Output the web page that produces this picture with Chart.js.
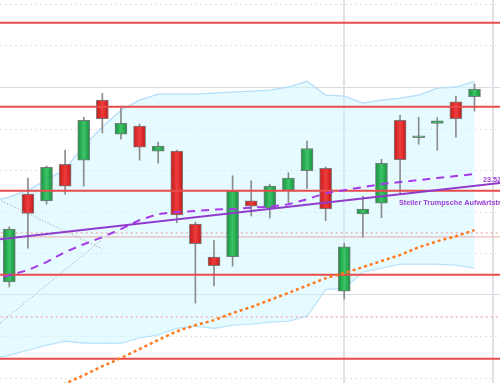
<!DOCTYPE html>
<html><head><meta charset="utf-8">
<script src="https://cdn.jsdelivr.net/npm/chart.js@4.4.1/dist/chart.umd.min.js"></script>
<style>html,body{margin:0;padding:0;background:#fff;overflow:hidden}canvas{display:block}</style>
</head><body>
<canvas id="c" width="500" height="383"></canvas>
<script>
// ---- data (prices) ----
const candleIndex = [0,1,2,3,4,5,6,7,8,9,10,11,12,13,14,15,16,17,18,19,20,21,22,23,24,25];
const opens  = [23.229,23.490,23.470,23.579,23.591,23.770,23.669,23.693,23.618,23.618,23.401,23.303,23.304,23.470,23.449,23.502,23.560,23.567,23.201,23.431,23.463,23.710,23.658,23.701,23.765,23.780];
const highs  = [23.393,23.538,23.574,23.621,23.719,23.790,23.746,23.699,23.645,23.621,23.407,23.353,23.545,23.530,23.520,23.554,23.648,23.571,23.344,23.484,23.594,23.725,23.719,23.718,23.782,23.818];
const lows   = [23.214,23.329,23.460,23.490,23.514,23.672,23.654,23.591,23.582,23.405,23.166,23.217,23.276,23.425,23.419,23.463,23.507,23.411,23.178,23.362,23.420,23.492,23.639,23.621,23.660,23.737];
const closes = [23.386,23.433,23.570,23.514,23.710,23.715,23.701,23.630,23.633,23.428,23.343,23.277,23.499,23.454,23.514,23.538,23.626,23.446,23.333,23.446,23.582,23.593,23.664,23.708,23.715,23.803];

const bandIndex = [-1,0,1,2,3,4,5,6,7,8,9,10,11,12,13,14,15,16,17,18,19,20,21,22,23,24,25];
const bandUpper = [23.469,23.481,23.502,23.532,23.565,23.633,23.690,23.740,23.770,23.788,23.788,23.788,23.791,23.794,23.797,23.800,23.809,23.826,23.785,23.782,23.761,23.770,23.776,23.785,23.806,23.809,23.826];
const bandLower = [22.999,23.011,23.026,23.041,23.053,23.047,23.047,23.047,23.062,23.071,23.091,23.097,23.091,23.100,23.103,23.109,23.112,23.127,23.207,23.210,23.258,23.270,23.282,23.282,23.282,23.279,23.270];

const maShortIndex = bandIndex;
const maShort = [23.231,23.249,23.264,23.288,23.318,23.341,23.362,23.386,23.413,23.431,23.437,23.440,23.444,23.446,23.450,23.453,23.460,23.475,23.493,23.502,23.511,23.520,23.526,23.532,23.538,23.544,23.550];

const maLongIndex = [2,3,4,5,6,7,8,9,10,11,12,13,14,15,16,17,18,19,20,21,22,23,24,25];
const maLong = [22.901,22.926,22.951,22.978,23.002,23.029,23.056,23.082,23.100,23.115,23.136,23.154,23.175,23.196,23.218,23.240,23.255,23.273,23.291,23.309,23.332,23.350,23.365,23.383];

const trendIndex = [-1,27];
const trendValues = [23.353,23.527];
const crossDownIndex = [-1,5];
const crossDownValues = [23.485,23.327];
const crossUpIndex = [-1,5];
const crossUpValues = [23.083,23.356];

const redLevels = [24.0,23.75,23.5,23.25,23.0];
const pinkDottedLevels = [23.375,23.125];
const pinkSolidLevels = [23.363];
const gridLevels = [24.057,23.934,23.685,23.562,23.438,23.315,23.068,22.944];
const gridSolidLevels = [23.809,23.193];
const verticalMarks = [18,26];

const annotations = [
  {text:'Steiler Trumpsche Aufwärtstrend', x:20.94, y:23.465},
  {text:'23.52', x:25.45, y:23.532}
];

// ---- helpers ----
const span = [-1,28];
function levelDataset(v, color, width, dash, order){
  return {type:'line', data: span.map(x=>({x, y:v})), borderColor:color, borderWidth:width,
    borderDash:dash, pointRadius:0, fill:false, order};
}
function pts(xs, ys){ return xs.map((x,i)=>({x, y:ys[i]})); }

function bodyFill(ctx){
  const chart = ctx.chart;
  if (ctx.type !== 'data' || !chart.chartArea) return '#2aa84a';
  const i = ctx.dataIndex;
  const up = closes[i] >= opens[i];
  const x = chart.scales.x.getPixelForValue(candleIndex[i]);
  const g = chart.ctx.createLinearGradient(x-6,0,x+6,0);
  if (up){ g.addColorStop(0,'#17903f'); g.addColorStop(0.5,'#3cc567'); g.addColorStop(1,'#17903f'); }
  else   { g.addColorStop(0,'#c41a1a'); g.addColorStop(0.5,'#f03c3c'); g.addColorStop(1,'#c41a1a'); }
  return g;
}

const datasets = [
  {type:'line', data: pts(bandIndex, bandUpper), borderColor:'#b4defa', borderWidth:1.3, pointRadius:0,
    fill:'+1', backgroundColor:'rgba(205,248,255,0.5)', order:30},
  {type:'line', data: pts(bandIndex, bandLower), borderColor:'#b4defa', borderWidth:1.3, pointRadius:0,
    fill:false, order:30},
  {type:'bar', data: candleIndex.map((x,i)=>({x, y:[lows[i], highs[i]]})), backgroundColor:'#8c8c8c',
    barThickness:1, grouped:false, order:21},
  {type:'bar', data: candleIndex.map((x,i)=>({x, y:[opens[i], closes[i]]})), backgroundColor: bodyFill,
    borderColor:'rgba(85,85,85,0.75)', borderWidth:1, borderSkipped:false, barThickness:12, grouped:false, order:20},
];
pinkSolidLevels.forEach(v=>datasets.push(levelDataset(v,'rgba(236,170,170,0.8)',1.2,[],25)));
pinkDottedLevels.forEach(v=>datasets.push(levelDataset(v,'rgba(240,160,160,0.9)',1.2,[2,3],25)));
redLevels.forEach(v=>datasets.push(levelDataset(v,'#e84b4b',2,[],10)));
datasets.push({type:'line', data: pts(crossDownIndex, crossDownValues), borderColor:'#9a9a9a', borderWidth:1, borderDash:[1,2], pointRadius:0, fill:false, order:8});
datasets.push({type:'line', data: pts(crossUpIndex, crossUpValues), borderColor:'#9a9a9a', borderWidth:1, borderDash:[1,2], pointRadius:0, fill:false, order:8});
datasets.push({type:'line', data: pts(maShortIndex, maShort), borderColor:'#a53ae8', borderWidth:2, borderDash:[8,6], pointRadius:0, fill:false, order:5});
datasets.push({type:'line', data: pts(maLongIndex, maLong), borderColor:'#ff7a1e', borderWidth:2.5, borderDash:[3,3], pointRadius:0, fill:false, order:5});
datasets.push({type:'line', data: pts(trendIndex, trendValues), borderColor:'#8f3bcc', borderWidth:2, pointRadius:0, fill:false, order:4});

const backPlugin = {
  id:'back',
  beforeDatasetsDraw(chart){
    const {ctx, chartArea:a, scales:{x,y}} = chart;
    ctx.save();
    ctx.lineWidth = 1;
    ctx.strokeStyle = 'rgba(200,200,205,0.55)';
    ctx.setLineDash([2,3]);
    gridLevels.forEach(v=>{ const py=Math.round(y.getPixelForValue(v))+0.5; ctx.beginPath(); ctx.moveTo(a.left,py); ctx.lineTo(a.right,py); ctx.stroke(); });
    ctx.setLineDash([]);
    ctx.strokeStyle = 'rgba(210,210,215,0.8)';
    gridSolidLevels.forEach(v=>{ const py=Math.round(y.getPixelForValue(v))+0.5; ctx.beginPath(); ctx.moveTo(a.left,py); ctx.lineTo(a.right,py); ctx.stroke(); });
    ctx.lineWidth = 2;
    ctx.strokeStyle = 'rgba(222,222,232,0.9)';
    verticalMarks.forEach(v=>{ const px=Math.round(x.getPixelForValue(v)); ctx.beginPath(); ctx.moveTo(px,a.top); ctx.lineTo(px,a.bottom); ctx.stroke(); });
    ctx.restore();
  },
  afterDatasetsDraw(chart){
    const {ctx, scales:{x,y}} = chart;
    ctx.save();
    ctx.fillStyle = '#9a3fd6';
    ctx.font = 'bold 7.3px "Liberation Sans", Arial, sans-serif';
    ctx.textBaseline = 'middle';
    ctx.textAlign = 'left';
    annotations.forEach(a=>ctx.fillText(a.text, x.getPixelForValue(a.x), y.getPixelForValue(a.y)));
    ctx.restore();
  }
};

new Chart(document.getElementById('c'), {
  type:'line',
  data:{datasets},
  options:{
    responsive:false, animation:false, devicePixelRatio:1,
    layout:{padding:0},
    plugins:{legend:{display:false}, tooltip:{enabled:false}},
    scales:{
      x:{type:'linear', min:-0.5, max:26.37, offset:false, display:false},
      y:{type:'linear', min:22.928, max:24.068, display:false}
    }
  },
  plugins:[backPlugin]
});
</script>
</body></html>
